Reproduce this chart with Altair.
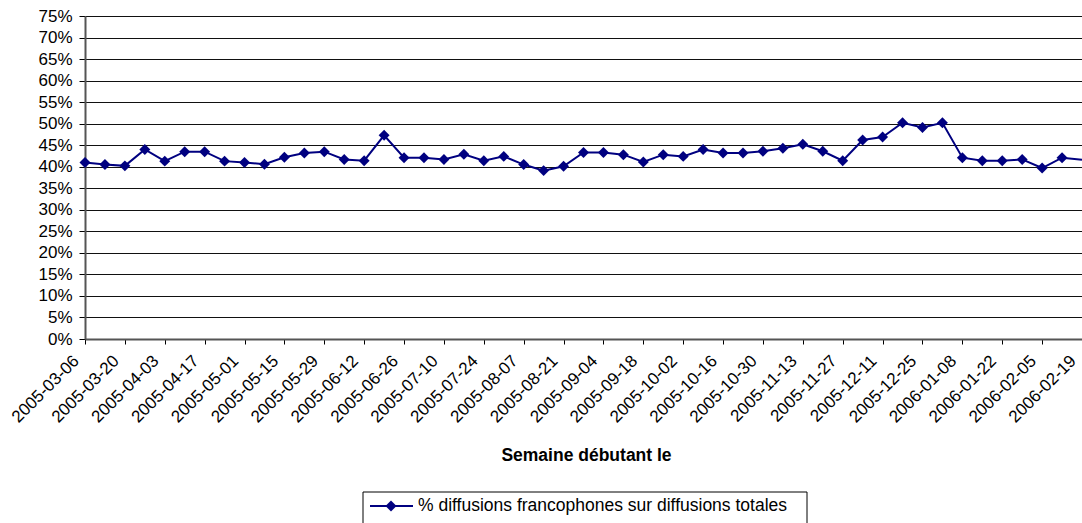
import json
import altair as alt
import pandas as pd

weeks = [
    "2005-03-06", "2005-03-13", "2005-03-20", "2005-03-27", "2005-04-03", "2005-04-10",
    "2005-04-17", "2005-04-24", "2005-05-01", "2005-05-08", "2005-05-15", "2005-05-22",
    "2005-05-29", "2005-06-05", "2005-06-12", "2005-06-19", "2005-06-26", "2005-07-03",
    "2005-07-10", "2005-07-17", "2005-07-24", "2005-07-31", "2005-08-07", "2005-08-14",
    "2005-08-21", "2005-08-28", "2005-09-04", "2005-09-11", "2005-09-18", "2005-09-25",
    "2005-10-02", "2005-10-09", "2005-10-16", "2005-10-23", "2005-10-30", "2005-11-06",
    "2005-11-13", "2005-11-20", "2005-11-27", "2005-12-04", "2005-12-11", "2005-12-18",
    "2005-12-25", "2006-01-01", "2006-01-08", "2006-01-15", "2006-01-22", "2006-01-29",
    "2006-02-05", "2006-02-12", "2006-02-19",
]

pct_values = [
    41.0, 40.5, 40.2, 44.0, 41.3, 43.5, 43.5, 41.3, 41.0, 40.6,
    42.2, 43.2, 43.5, 41.7, 41.4, 47.3, 42.1, 42.1, 41.7, 42.9,
    41.4, 42.4, 40.5, 39.1, 40.1, 43.3, 43.3, 42.8, 41.1, 42.8,
    42.4, 44.0, 43.2, 43.2, 43.6, 44.3, 45.2, 43.6, 41.4, 46.2,
    46.9, 50.2, 49.1, 50.2, 42.1, 41.4, 41.4, 41.7, 39.7, 42.1,
    41.6,
]

y_ticks = [0, 0.05, 0.10, 0.15, 0.20, 0.25, 0.30, 0.35, 0.40, 0.45, 0.50, 0.55, 0.60, 0.65, 0.70, 0.75]
x_tick_idx = list(range(0, len(weeks), 2))

series_name = "% diffusions francophones sur diffusions totales"
x_title = "Semaine débutant le"

FONT = "Liberation Sans"
NAVY = "#000080"

df = pd.DataFrame({
    "idx": list(range(len(weeks))),
    "week": weeks,
    "share": [v / 100 for v in pct_values],
})

x_enc = alt.X(
    "idx:Q",
    scale=alt.Scale(domain=[0, 50], nice=False, zero=False),
    axis=alt.Axis(
        values=x_tick_idx,
        labelExpr=f"{json.dumps(weeks)}[datum.value]",
        labelAngle=315,
        labelAlign="right",
        labelBaseline="middle",
        labelPadding=14,
        labelOffset=-9,
        labelFont=FONT,
        labelFontSize=17,
        labelColor="black",
        labelOverlap=False,
        labelFlush=False,
        tickSize=5,
        tickColor="black",
        domainColor="#555555",
        domainWidth=2,
        grid=False,
        title=x_title,
        titleFont=FONT,
        titleFontSize=17.5,
        titleFontWeight="bold",
        titleColor="black",
        titleX=501,
        titleY=116,
        titleAlign="center",
        titleBaseline="middle",
        titleAnchor="start",
    ),
)

y_enc = alt.Y(
    "share:Q",
    scale=alt.Scale(domain=[0, 0.75], nice=False),
    axis=alt.Axis(
        values=y_ticks,
        format=".0%",
        labelFont=FONT,
        labelFontSize=17,
        labelColor="black",
        labelPadding=7,
        labelOverlap=False,
        labelFlush=False,
        tickSize=6,
        tickColor="black",
        domainColor="#555555",
        domainWidth=2,
        grid=True,
        gridColor="#111111",
        gridWidth=1,
        title=None,
    ),
)

base = alt.Chart(df)
line = base.mark_line(color=NAVY, strokeWidth=2).encode(x=x_enc, y=y_enc)
points = base.mark_point(shape="diamond", filled=True, size=120, color=NAVY, opacity=1).encode(
    x=x_enc, y=y_enc
).transform_filter(alt.datum.idx < 50)

leg_df = pd.DataFrame({"label": [series_name]})
leg = alt.Chart(leg_df)
leg_box = leg.mark_rect(fill="white", stroke="black", strokeWidth=1).encode(
    x=alt.value(278), x2=alt.value(722), y=alt.value(476), y2=alt.value(514)
)
leg_line = leg.mark_rule(color=NAVY, strokeWidth=2).encode(
    x=alt.value(285), x2=alt.value(328), y=alt.value(490)
)
leg_pt = leg.mark_point(shape="diamond", filled=True, size=120, color=NAVY, opacity=1).encode(
    x=alt.value(306), y=alt.value(490)
)
leg_txt = leg.mark_text(font=FONT, fontSize=17.5, align="left", baseline="middle", color="black").encode(
    x=alt.value(333), y=alt.value(490), text="label:N"
)

chart = alt.layer(line, points, leg_box, leg_line, leg_pt, leg_txt).properties(
    width=997,
    height=323,
    autosize=alt.AutoSizeParams(type="none"),
    padding={"left": 85, "top": 16, "right": 0, "bottom": 184},
    background="white",
).configure_view(stroke=None)

chart.save("out.html", embed_options={"renderer": "svg", "actions": False})
